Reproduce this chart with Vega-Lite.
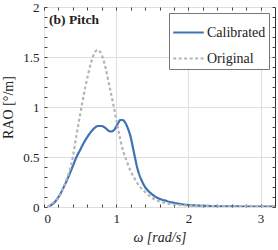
{
  "$schema": "https://vega.github.io/schema/vega-lite/v6.json",
  "width": 231,
  "height": 200,
  "autosize": "none",
  "padding": {"left": 44, "top": 7, "right": 3, "bottom": 43},
  "config": {
    "font": "serif",
    "view": {"stroke": "#333333", "strokeWidth": 1},
    "axis": {
      "labelFont": "serif",
      "titleFont": "serif",
      "labelFontSize": 13,
      "titleFontSize": 14,
      "titleFontWeight": "normal",
      "labelColor": "#222",
      "titleColor": "#222",
      "domainColor": "#333",
      "tickColor": "#444",
      "gridColor": "#dedede"
    },
    "legend": {
      "labelFont": "Liberation Serif",
      "labelFontSize": 14,
      "labelColor": "#222"
    }
  },
  "datasets": {
    "curves": [
      {"w": 0.05, "rao": 0.0, "series": "Calibrated"},
      {"w": 0.1, "rao": 0.02, "series": "Calibrated"},
      {"w": 0.15, "rao": 0.05, "series": "Calibrated"},
      {"w": 0.2, "rao": 0.1, "series": "Calibrated"},
      {"w": 0.3, "rao": 0.24, "series": "Calibrated"},
      {"w": 0.4, "rao": 0.41, "series": "Calibrated"},
      {"w": 0.45, "rao": 0.5, "series": "Calibrated"},
      {"w": 0.5, "rao": 0.57, "series": "Calibrated"},
      {"w": 0.55, "rao": 0.64, "series": "Calibrated"},
      {"w": 0.6, "rao": 0.7, "series": "Calibrated"},
      {"w": 0.65, "rao": 0.75, "series": "Calibrated"},
      {"w": 0.7, "rao": 0.79, "series": "Calibrated"},
      {"w": 0.75, "rao": 0.81, "series": "Calibrated"},
      {"w": 0.8, "rao": 0.81, "series": "Calibrated"},
      {"w": 0.85, "rao": 0.79, "series": "Calibrated"},
      {"w": 0.9, "rao": 0.76, "series": "Calibrated"},
      {"w": 0.93, "rao": 0.755, "series": "Calibrated"},
      {"w": 0.97, "rao": 0.77, "series": "Calibrated"},
      {"w": 1.02, "rao": 0.83, "series": "Calibrated"},
      {"w": 1.06, "rao": 0.87, "series": "Calibrated"},
      {"w": 1.09, "rao": 0.87, "series": "Calibrated"},
      {"w": 1.12, "rao": 0.85, "series": "Calibrated"},
      {"w": 1.16, "rao": 0.79, "series": "Calibrated"},
      {"w": 1.2, "rao": 0.7, "series": "Calibrated"},
      {"w": 1.25, "rao": 0.53, "series": "Calibrated"},
      {"w": 1.3, "rao": 0.37, "series": "Calibrated"},
      {"w": 1.35, "rao": 0.27, "series": "Calibrated"},
      {"w": 1.4, "rao": 0.2, "series": "Calibrated"},
      {"w": 1.46, "rao": 0.15, "series": "Calibrated"},
      {"w": 1.55, "rao": 0.1, "series": "Calibrated"},
      {"w": 1.7, "rao": 0.06, "series": "Calibrated"},
      {"w": 1.85, "rao": 0.035, "series": "Calibrated"},
      {"w": 2.0, "rao": 0.02, "series": "Calibrated"},
      {"w": 2.3, "rao": 0.01, "series": "Calibrated"},
      {"w": 2.6, "rao": 0.006, "series": "Calibrated"},
      {"w": 3.0, "rao": 0.004, "series": "Calibrated"},
      {"w": 3.2, "rao": 0.003, "series": "Calibrated"},
      {"w": 0.05, "rao": 0.0, "series": "Original"},
      {"w": 0.1, "rao": 0.03, "series": "Original"},
      {"w": 0.2, "rao": 0.09, "series": "Original"},
      {"w": 0.3, "rao": 0.25, "series": "Original"},
      {"w": 0.4, "rao": 0.5, "series": "Original"},
      {"w": 0.45, "rao": 0.72, "series": "Original"},
      {"w": 0.5, "rao": 0.92, "series": "Original"},
      {"w": 0.55, "rao": 1.12, "series": "Original"},
      {"w": 0.6, "rao": 1.29, "series": "Original"},
      {"w": 0.65, "rao": 1.44, "series": "Original"},
      {"w": 0.7, "rao": 1.54, "series": "Original"},
      {"w": 0.74, "rao": 1.57, "series": "Original"},
      {"w": 0.78, "rao": 1.55, "series": "Original"},
      {"w": 0.82, "rao": 1.48, "series": "Original"},
      {"w": 0.86, "rao": 1.37, "series": "Original"},
      {"w": 0.9, "rao": 1.23, "series": "Original"},
      {"w": 0.95, "rao": 1.06, "series": "Original"},
      {"w": 1.0, "rao": 0.88, "series": "Original"},
      {"w": 1.05, "rao": 0.7, "series": "Original"},
      {"w": 1.1, "rao": 0.55, "series": "Original"},
      {"w": 1.15, "rao": 0.45, "series": "Original"},
      {"w": 1.2, "rao": 0.36, "series": "Original"},
      {"w": 1.25, "rao": 0.29, "series": "Original"},
      {"w": 1.3, "rao": 0.23, "series": "Original"},
      {"w": 1.4, "rao": 0.15, "series": "Original"},
      {"w": 1.5, "rao": 0.09, "series": "Original"},
      {"w": 1.65, "rao": 0.045, "series": "Original"},
      {"w": 1.8, "rao": 0.025, "series": "Original"},
      {"w": 2.0, "rao": 0.015, "series": "Original"},
      {"w": 2.5, "rao": 0.008, "series": "Original"},
      {"w": 3.2, "rao": 0.004, "series": "Original"}
    ],
    "label": [
      {"w": 0.07, "rao": 1.87, "text": "(b) Pitch"}
    ]
  },
  "layer": [
    {
      "data": {"name": "curves"},
      "mark": {"type": "line", "interpolate": "monotone", "strokeWidth": 2.2, "clip": true},
      "encoding": {
        "x": {
          "field": "w", "type": "quantitative",
          "scale": {"domain": [0, 3.2], "nice": false},
          "title": "ω [rad/s]",
          "axis": {
            "values": [0, 1, 2, 3],
            "format": "~g",
            "ticks": false,
            "domain": false,
            "labelFont": "serif",
            "titleFont": "serif",
            "labelPadding": 5,
            "titlePadding": 5,
            "titleFontStyle": "italic"
          }
        },
        "y": {
          "field": "rao", "type": "quantitative",
          "scale": {"domain": [0, 2], "nice": false},
          "title": "RAO [°/m]",
          "axis": {
            "values": [0, 0.5, 1, 1.5, 2],
            "format": "~g",
            "ticks": false,
            "domain": false,
            "labelFont": "serif",
            "titleFont": "serif",
            "labelPadding": 5,
            "titlePadding": 7
          }
        },
        "color": {
          "field": "series", "type": "nominal",
          "scale": {"domain": ["Calibrated", "Original"], "range": ["#3d72b4", "#b5b5b5"]},
          "legend": {
            "title": null,
            "orient": "none",
            "legendX": 125,
            "legendY": 6,
            "strokeColor": "#777",
            "fillColor": "white",
            "padding": 3,
            "symbolType": "stroke",
            "symbolSize": 940,
            "symbolStrokeWidth": 2,
            "rowPadding": 2,
            "labelOffset": 2
          }
        },
        "strokeDash": {
          "field": "series", "type": "nominal",
          "scale": {"domain": ["Calibrated", "Original"], "range": [[1, 0], [3, 2.5]]},
          "legend": null
        }
      }
    },
    {
      "data": {"name": "label"},
      "mark": {"type": "text", "align": "left", "baseline": "middle", "fontWeight": "bold", "fontSize": 13.5, "color": "#222", "font": "serif"},
      "encoding": {
        "x": {
          "field": "w", "type": "quantitative",
          "axis": {
            "orient": "top", "offset": -200, "labels": false, "title": null, "grid": false, "domain": false,
            "values": [0, 0.2, 0.4, 0.6, 0.8, 1, 1.2, 1.4, 1.6, 1.8, 2, 2.2, 2.4, 2.6, 2.8, 3],
            "tickSize": 3
          }
        },
        "y": {
          "field": "rao", "type": "quantitative",
          "axis": {
            "orient": "right", "offset": -231, "labels": false, "title": null, "grid": false, "domain": false,
            "values": [0, 0.1, 0.2, 0.3, 0.4, 0.5, 0.6, 0.7, 0.8, 0.9, 1, 1.1, 1.2, 1.3, 1.4, 1.5, 1.6, 1.7, 1.8, 1.9, 2],
            "tickSize": 3
          }
        },
        "text": {"field": "text"}
      }
    },
    {
      "data": {"name": "label"},
      "mark": {"type": "text", "opacity": 0},
      "encoding": {
        "x": {
          "field": "w", "type": "quantitative",
          "axis": {
            "orient": "bottom", "offset": -200, "labels": false, "title": null, "grid": false, "domain": false,
            "values": [0, 0.2, 0.4, 0.6, 0.8, 1, 1.2, 1.4, 1.6, 1.8, 2, 2.2, 2.4, 2.6, 2.8, 3],
            "tickSize": 3
          }
        },
        "y": {
          "field": "rao", "type": "quantitative",
          "axis": {
            "orient": "left", "offset": -231, "labels": false, "title": null, "grid": false, "domain": false,
            "values": [0, 0.1, 0.2, 0.3, 0.4, 0.5, 0.6, 0.7, 0.8, 0.9, 1, 1.1, 1.2, 1.3, 1.4, 1.5, 1.6, 1.7, 1.8, 1.9, 2],
            "tickSize": 3
          }
        },
        "text": {"field": "text"}
      }
    }
  ],
  "resolve": {"axis": {"x": "independent", "y": "independent"}}
}
